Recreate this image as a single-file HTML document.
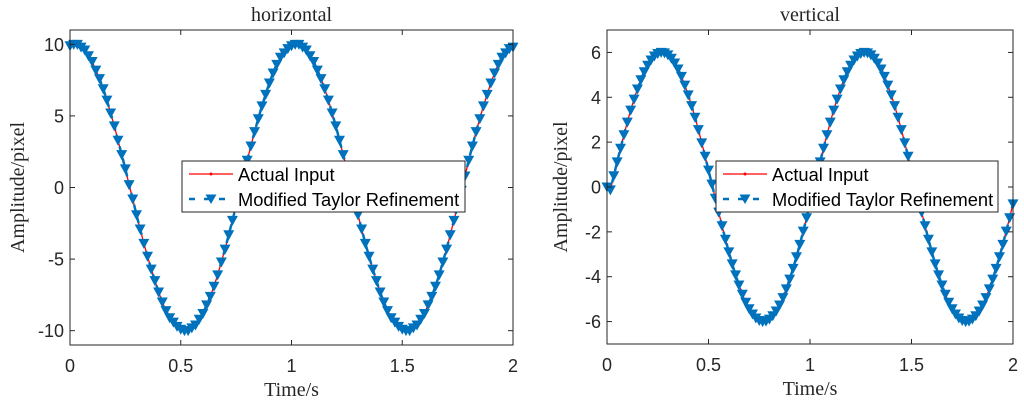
<!DOCTYPE html>
<html><head><meta charset="utf-8"><style>
body{margin:0;background:#fff;}
svg{display:block;}
.tick{font-family:"Liberation Sans",sans-serif;font-size:18px;fill:#262626;}
.lab{font-family:"Liberation Serif",serif;font-size:20px;fill:#262626;}
.leg{font-family:"Liberation Sans",sans-serif;font-size:18.3px;fill:#000;}
</style></head><body>
<svg id="chart" width="1024" height="404"></svg>
<script>
const timeStep = 1/60;
const leftValues = [9.9,10.0,10.0,9.8,9.6,9.2,8.8,8.2,7.6,6.9,6.1,5.2,4.3,3.3,2.3,1.3,0.2,-0.8,-1.9,-2.9,-3.9,-4.8,-5.7,-6.5,-7.3,-8.0,-8.6,-9.1,-9.4,-9.7,
-9.9,-10.0,-10.0,-9.8,-9.6,-9.2,-8.8,-8.2,-7.6,-6.9,-6.1,-5.2,-4.3,-3.3,-2.3,-1.3,-0.2,0.8,1.9,2.9,3.9,4.8,5.7,6.5,7.3,8.0,8.6,9.1,9.4,9.7,
9.9,10.0,10.0,9.8,9.6,9.2,8.8,8.2,7.6,6.9,6.1,5.2,4.3,3.3,2.3,1.3,0.2,-0.8,-1.9,-2.9,-3.9,-4.8,-5.7,-6.5,-7.3,-8.0,-8.6,-9.1,-9.4,-9.7,
-9.9,-10.0,-10.0,-9.8,-9.6,-9.2,-8.8,-8.2,-7.6,-6.9,-6.1,-5.2,-4.3,-3.3,-2.3,-1.3,-0.2,0.8,1.9,2.9,3.9,4.8,5.7,6.5,7.3,8.0,8.6,9.1,9.4,9.7,
9.8];
const rightValues = [0,-0.13,0.50,1.12,1.73,2.33,2.89,3.43,3.92,4.37,4.78,5.14,5.43,5.66,5.84,5.95,6.0,5.98,5.89,5.74,5.53,5.26,4.93,4.54,4.11,3.63,3.11,2.56,1.97,1.37,
0.75,0.13,-0.50,-1.12,-1.73,-2.33,-2.89,-3.43,-3.92,-4.37,-4.78,-5.14,-5.43,-5.66,-5.84,-5.95,-6.0,-5.98,-5.89,-5.74,-5.53,-5.26,-4.93,-4.54,-4.11,-3.63,-3.11,-2.56,-1.97,-1.37,
-0.75,-0.13,0.50,1.12,1.73,2.33,2.89,3.43,3.92,4.37,4.78,5.14,5.43,5.66,5.84,5.95,6.0,5.98,5.89,5.74,5.53,5.26,4.93,4.54,4.11,3.63,3.11,2.56,1.97,1.37,
0.75,0.13,-0.50,-1.12,-1.73,-2.33,-2.89,-3.43,-3.92,-4.37,-4.78,-5.14,-5.43,-5.66,-5.84,-5.95,-6.0,-5.98,-5.89,-5.74,-5.53,-5.26,-4.93,-4.54,-4.11,-3.63,-3.11,-2.56,-1.97,-1.37,
-0.75];
const xTicks = [0,0.5,1,1.5,2];
const xTickLabels = ["0","0.5","1","1.5","2"];
const leftYTicks = [-10,-5,0,5,10];
const leftYTickLabels = ["-10","-5","0","5","10"];
const rightYTicks = [-6,-4,-2,0,2,4,6];
const rightYTickLabels = ["-6","-4","-2","0","2","4","6"];
const legendLabels = ["Actual Input","Modified Taylor Refinement"];

const NS="http://www.w3.org/2000/svg";
const svg=document.getElementById('chart');
function mk(tag,attrs,parent){const e=document.createElementNS(NS,tag);for(const k in attrs)e.setAttribute(k,attrs[k]);(parent||svg).appendChild(e);return e;}

function panel(cfg){
  const g=mk('g',{});
  
  
  const L=cfg.x0,R=cfg.x1,T=cfg.y0,B=cfg.y1;
  const sx=t=>L+(t-0)/(2-0)*(R-L);
  const sy=v=>B-(v-cfg.ymin)/(cfg.ymax-cfg.ymin)*(B-T);
  const vals=cfg.values;
  let d='';vals.forEach((v,i)=>{d+=(i?'L':'M')+sx(i*timeStep).toFixed(2)+','+sy(v).toFixed(2);});
  const red=mk('path',{d:d,fill:'none',stroke:'#ff0000','stroke-width':1.3},g);
  
  
  const blue=mk('path',{d:d,fill:'none',stroke:'#0072BD','stroke-width':2.5,'stroke-dasharray':'7 5'},g);
  
  
  vals.forEach((v,i)=>{
    const x=sx(i*timeStep),y=sy(v);
    const m=mk('path',{d:`M${x-5.5},${y-4.5}L${x+5.5},${y-4.5}L${x},${y+5.5}Z`,fill:'#0072BD'},g);
    
    
  });
  const box=mk('rect',{x:L,y:T,width:R-L,height:B-T,fill:'none',stroke:'#262626','stroke-width':1},g);
  
  
  xTicks.forEach((t,i)=>{
    const x=sx(t);
    mk('line',{x1:x,y1:B,x2:x,y2:B-5,stroke:'#262626'},g);
    mk('line',{x1:x,y1:T,x2:x,y2:T+5,stroke:'#262626'},g);
    const tx=mk('text',{x:x,y:B+27,'text-anchor':'middle',class:'tick'},g);
    tx.textContent=xTickLabels[i];
    
    
  });
  cfg.yTicks.forEach((v,i)=>{
    const y=sy(v);
    mk('line',{x1:L,y1:y,x2:L+5,y2:y,stroke:'#262626'},g);
    mk('line',{x1:R,y1:y,x2:R-5,y2:y,stroke:'#262626'},g);
    const tx=mk('text',{x:L-6,y:y+6.5,'text-anchor':'end',class:'tick'},g);
    tx.textContent=cfg.yLabels[i];
    
    
  });
  const title=mk('text',{x:(L+R)/2,y:T-9,'text-anchor':'middle',class:'lab'},g);
  title.textContent=cfg.title;
  
  
  const xl=mk('text',{x:(L+R)/2,y:B+51,'text-anchor':'middle',class:'lab'},g);
  xl.textContent='Time/s';
  
  
  const yc=(T+B)/2;
  const yl=mk('text',{x:cfg.ylx,y:yc,'text-anchor':'middle',class:'lab',transform:`rotate(-90 ${cfg.ylx} ${yc})`},g);
  yl.textContent='Amplitude/pixel';
  
  
  const lg=mk('g',{},g);
  
  
  const lx=cfg.legX, ly=161;
  mk('rect',{x:lx,y:ly,width:cfg.legW,height:51,fill:'#fff',stroke:'#262626','stroke-width':1},lg);
  mk('line',{x1:lx+7,y1:ly+13,x2:lx+51,y2:ly+13,stroke:'#ff0000','stroke-width':1.3},lg);
  mk('circle',{cx:lx+29,cy:ly+13,r:1.5,fill:'#ff0000'},lg);
  mk('line',{x1:lx+7,y1:ly+38,x2:lx+51,y2:ly+38,stroke:'#0072BD','stroke-width':2.5,'stroke-dasharray':'6 9'},lg);
  mk('path',{d:`M${lx+23.5},${ly+33.5}L${lx+34.5},${ly+33.5}L${lx+29},${ly+43}Z`,fill:'#0072BD'},lg);
  legendLabels.forEach((s,i)=>{
    const t=mk('text',{x:lx+56,y:ly+20+i*25,class:'leg'},lg);
    t.textContent=s;
    
    
  });
}
panel({name:'horizontal-panel',x0:70,x1:513,y0:30,y1:345,ymin:-11,ymax:11,values:leftValues,yTicks:leftYTicks,yLabels:leftYTickLabels,title:'horizontal',ylx:24,legX:182,legW:283});
panel({name:'vertical-panel',x0:607,x1:1013,y0:30,y1:344,ymin:-7,ymax:7,values:rightValues,yTicks:rightYTicks,yLabels:rightYTickLabels,title:'vertical',ylx:567,legX:716,legW:282});
</script>
</body></html>
